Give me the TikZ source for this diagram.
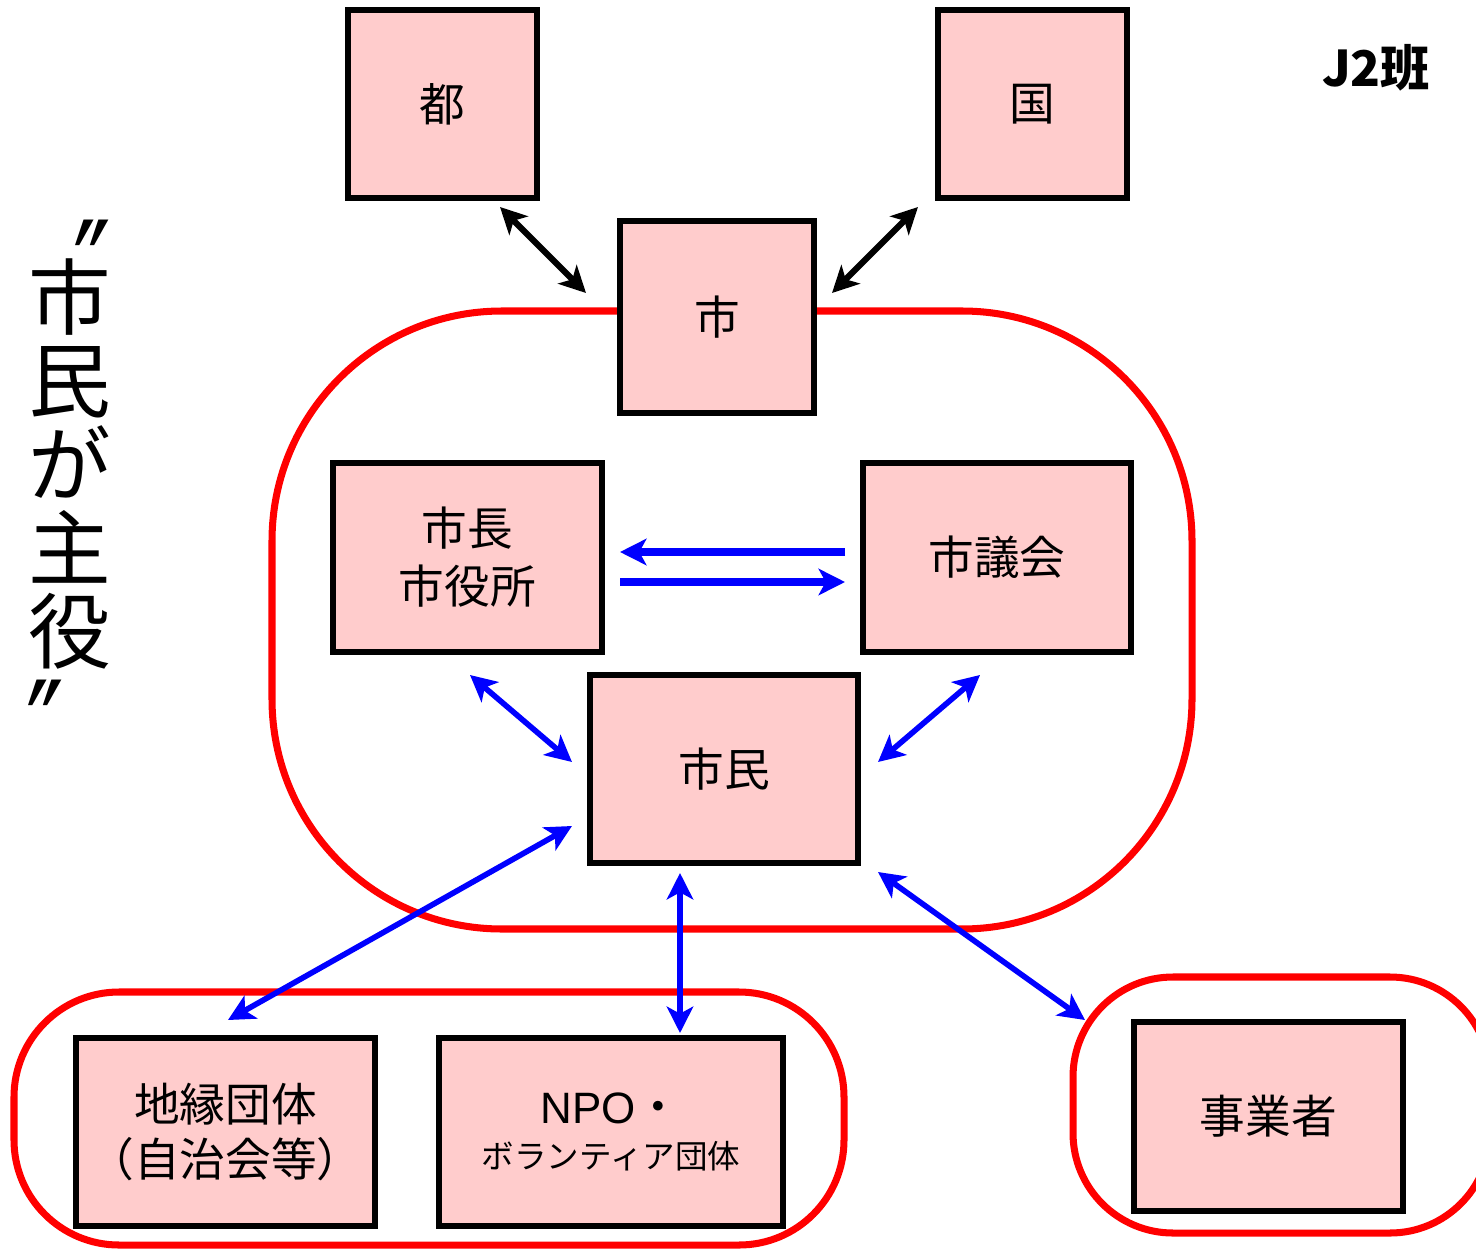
\documentclass[tikz,border=0pt]{standalone}
\usepackage{graphicx}
\usepackage{fontspec}
\setmainfont{Noto Sans CJK JP}
\newfontfamily\latinfont{Liberation Sans}
\newfontfamily\symfont{DejaVu Sans}
\usetikzlibrary{arrows.meta}
\definecolor{boxpink}{HTML}{FFCCCC}
\definecolor{redline}{HTML}{FF0000}
\definecolor{blueline}{HTML}{0000FF}
\newcommand\qmk{\raisebox{-29pt}[0pt][0pt]{\scalebox{0.72}[1]{\symfont\fontsize{80}{80}\selectfont ″}}}
\begin{document}
\begin{tikzpicture}[x=0.02cm,y=-0.02cm,
  box/.style={draw=black, line width=3pt, fill=boxpink, inner sep=0pt,
    align=center, font=\fontsize{26}{33}\selectfont},
  group/.style={draw=redline, line width=4pt},
  tipk/.tip={Stealth[length=15pt,width=15pt,inset=4pt]},
  blkarrow/.style={draw=black, line width=3.6pt, tipk-tipk},
  bluarrow/.style={draw=blueline, line width=3.2pt, tipk-tipk},
  bluone/.style={draw=blueline, line width=4.4pt, -tipk},
  vtext/.style={inner sep=0pt, align=center, font=\fontsize{47}{47.6}\selectfont}
]
\useasboundingbox (0,0) rectangle (1476,1250);

% red groups
\draw[group, rounded corners=4.6cm] (272,311) rectangle (1192,929);
\draw[group, rounded corners=2.1cm] (14,992) rectangle (844,1245);
\draw[group, rounded corners=2cm] (1073,977) rectangle (1490,1233);

% boxes
\node[box, minimum width=3.78cm, minimum height=3.76cm] (to) at (442.5,104) {都};
\node[box, minimum width=3.78cm, minimum height=3.76cm] (kuni) at (1032.5,104) {国};
\node[box, minimum width=3.88cm, minimum height=3.84cm] (shi) at (717,317) {市};
\node[box, minimum width=5.38cm, minimum height=3.78cm] (shicho) at (467.5,557.5) {市長\\市役所};
\node[box, minimum width=5.36cm, minimum height=3.78cm] (gikai) at (997,557.5) {市議会};
\node[box, minimum width=5.36cm, minimum height=3.76cm] (shimin) at (724,769) {市民};
\node[box, minimum width=5.98cm, minimum height=3.76cm, font=\fontsize{26}{31}\selectfont] (chien) at (225.5,1132) {地縁団体\\（自治会等）};
\node[box, minimum width=6.88cm, minimum height=3.76cm] (npo) at (611,1132)
  {{\latinfont\fontsize{25}{30}\selectfont NPO}・\\[-7pt]{\fontsize{18.5}{22}\selectfont ボランティア団体}};
\node[box, minimum width=5.38cm, minimum height=3.78cm] (jigyo) at (1268.5,1116.5) {事業者};

% labels
\node[inner sep=0pt, font=\bfseries\fontsize{28}{30}\selectfont] (han) at (1376,68) {J2班};
\node[vtext, anchor=north] (shuyaku) at (70,271)
  {\makebox[0pt]{\kern26pt\qmk}\\[-15.3pt]市\\民\\が\\主\\役\\[-8.6pt]\makebox[0pt]{\qmk\kern28pt}};

% arrow end points
\coordinate (toA) at (500,207);
\coordinate (shiA) at (586,293);
\coordinate (kuniA) at (918,207);
\coordinate (shiB) at (832,293);
\coordinate (gikaiL) at (845,552);
\coordinate (shichoL) at (620,552);
\coordinate (shichoR) at (620,582);
\coordinate (gikaiR) at (845,582);
\coordinate (shichoD) at (470,675);
\coordinate (shiminA) at (572,762);
\coordinate (gikaiD) at (980,675);
\coordinate (shiminB) at (878,762);
\coordinate (shiminC) at (572,826);
\coordinate (chienU) at (228,1020);
\coordinate (shiminD) at (680,873);
\coordinate (npoU) at (680,1033);
\coordinate (shiminE) at (878,872);
\coordinate (jigyoU) at (1085,1020);

% arrows
\draw[blkarrow] (toA) -- (shiA);
\draw[blkarrow] (kuniA) -- (shiB);
\draw[bluone] (gikaiL) -- (shichoL);
\draw[bluone] (shichoR) -- (gikaiR);
\draw[bluarrow] (shichoD) -- (shiminA);
\draw[bluarrow] (gikaiD) -- (shiminB);
\draw[bluarrow] (shiminC) -- (chienU);
\draw[bluarrow] (shiminD) -- (npoU);
\draw[bluarrow] (shiminE) -- (jigyoU);
\end{tikzpicture}
\end{document}
